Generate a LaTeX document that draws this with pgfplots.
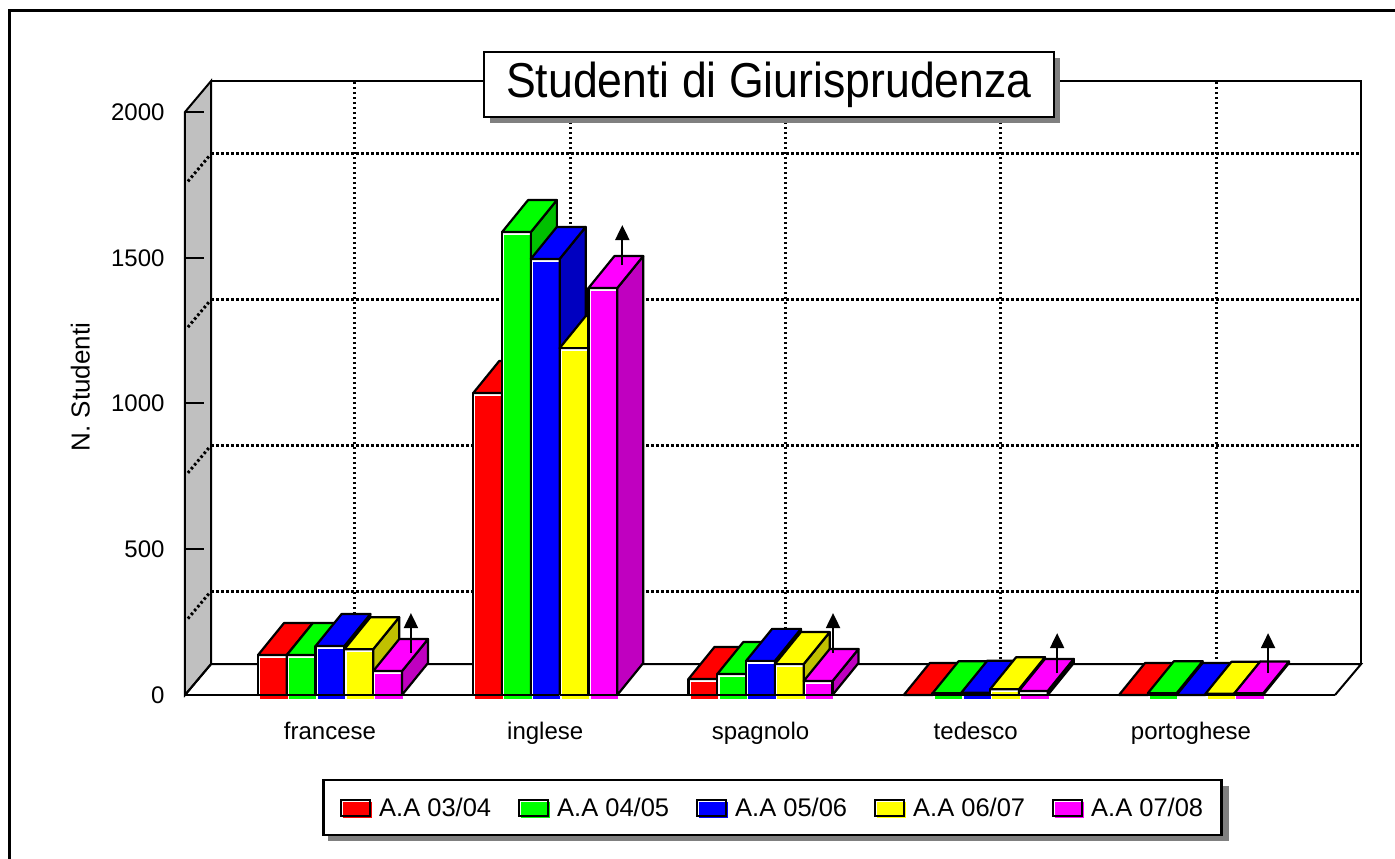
\documentclass[border=0pt]{standalone}
\usepackage{pgfplots}
\usepackage{pgfplotstable}
\usepackage{fontspec}
\setmainfont{Liberation Sans}
\newfontfamily\titlefont[FakeStretch=0.91]{Liberation Sans}
\pgfplotsset{compat=1.18}
\usetikzlibrary{shadows,arrows.meta}

\definecolor{cR}{RGB}{255,0,0}
\definecolor{cG}{RGB}{0,255,0}
\definecolor{cB}{RGB}{0,0,255}
\definecolor{cY}{RGB}{255,255,0}
\definecolor{cM}{RGB}{255,0,255}
\definecolor{sR}{RGB}{192,0,0}
\definecolor{sG}{RGB}{0,192,0}
\definecolor{sB}{RGB}{0,0,192}
\definecolor{sY}{RGB}{192,192,0}
\definecolor{sM}{RGB}{192,0,192}
\definecolor{wall}{RGB}{192,192,192}
\definecolor{shadowgrey}{RGB}{128,128,128}

% one table per series, cat = language index, v = students
\pgfplotstableread{
cat v
0 137
1 1036
2 55
3 0
4 0
}\seriesA
\pgfplotstableread{
cat v
0 137
1 1588
2 72
3 6
4 6
}\seriesB
\pgfplotstableread{
cat v
0 168
1 1496
2 117
3 8
4 0
}\seriesC
\pgfplotstableread{
cat v
0 157
1 1190
2 106
3 20
4 4
}\seriesD
\pgfplotstableread{
cat v
0 82
1 1396
2 48
3 14
4 5
}\seriesE
% arrows above the last series
\pgfplotstableread{
x y
0.376 144
1.358 1475
2.337 144
3.378 75
4.358 75
}\arrowsE

\pgfdeclareplotmark{nothing}{}
\pgfplotsset{
  box3d/.style 2 args={
    only marks, mark=nothing, scatter, scatter src=y,
    visualization depends on={y \as \barv},
    scatter/@pre marker code/.code={%
      \scope
      \pgfmathsetmacro\h{\barv*0.2915}%
      \pgfmathsetmacro\t{min(3,\h)}%
      \fill[white] (-14.4pt,-\h pt) rectangle (14.4pt,0pt);
      \ifdim\h pt>0.5pt
        \fill[#1] (-12pt,-\h pt-3.5pt) rectangle (14.4pt,-\t pt);
      \fi
      \draw[black,line width=2.2pt,line join=round,fill=#2]
        (14.4pt,0pt) -- (40.4pt,32pt) -- (40.4pt,32pt-\h pt) -- (14.4pt,-\h pt) -- cycle;
      \draw[black,line width=2.2pt,line join=round,fill=#1]
        (-14.4pt,0pt) -- (11.6pt,32pt) -- (40.4pt,32pt) -- (14.4pt,0pt) -- cycle;
      \draw[black,line width=2.2pt,line join=round] (-14.4pt,-\h pt) rectangle (14.4pt,0pt);
    },
    scatter/@post marker code/.code={\endscope},
  },
  % marks are painted after plain paths, so the arrows must be marks too
  arrowmark/.style={
    only marks, mark=nothing, scatter, scatter src=y,
    scatter/@pre marker code/.code={%
      \scope
      \draw[black,line width=2pt,-{Triangle[length=15pt,width=14pt]}] (0pt,0pt) -- (0pt,40pt);
    },
    scatter/@post marker code/.code={\endscope},
  },
  swatch/.style={
    legend image code/.code={
      \path[draw=none] (0pt,0pt) -- (36pt,0pt);
      \fill[#1,draw=none] (2pt,-10pt) rectangle (31pt,6pt);
      \draw[black,line width=2pt] (0pt,-8pt) rectangle (29pt,8pt);
    },
  },
  griddot/.style={black,line width=3pt,dash pattern=on 2.5pt off 2.5pt,forget plot},
}

\begin{document}
\begin{tikzpicture}[x=1pt,y=1pt]
\path[use as bounding box] (-185,-164) rectangle (1210,695);
\draw[black,line width=3pt] (-175,-170) -- (-175,684) -- (1212,684);
\begin{axis}[
    at={(0pt,0pt)}, anchor=south west,
    scale only axis, width=1150pt, height=583pt,
    xmin=-0.6736, xmax=4.669, ymin=0, ymax=2000,
    clip=false, axis on top,
    axis x line*=bottom, axis y line*=left,
    axis line style={black,line width=2pt,-},
    xtick={0,1,2,3,4},
    xticklabels={francese,inglese,spagnolo,tedesco,portoghese},
    x tick style={draw=none},
    ytick={0,500,1000,1500,2000},
    y tick style={black,line width=2pt},
    tick align=inside, major tick length=19pt,
    /pgf/number format/assume math mode=true,
    /pgf/number format/1000 sep={},
    tick label style={font=\fontsize{24}{24}\selectfont},
    xticklabel style={yshift=-24pt},
    yticklabel style={xshift=-17pt},
    ylabel={N. Studenti},
    ylabel style={font=\fontsize{26}{26}\selectfont, at={(axis description cs:-0.091,0.528)}, anchor=center},
    title={Studenti di Giurisprudenza},
    title style={
      font=\titlefont\fontsize{49}{49}\selectfont,
      at={(axis description cs:0.5078,1.0369)}, anchor=center,
      draw=black, line width=2.5pt, fill=white,
      minimum width=570pt, minimum height=65pt, inner sep=0pt,
      drop shadow={shadow xshift=6pt, shadow yshift=-6pt, fill=shadowgrey, opacity=1},
    },
    legend columns=5,
    legend cell align=left,
    legend style={
      at={(axis description cs:0.511,-0.193)}, anchor=center,
      draw=black, line width=2.5pt, fill=white,
      font=\fontsize{25.5}{25.5}\selectfont,
      inner xsep=16.5pt, inner ysep=15.5pt,
      /tikz/every even column/.append style={column sep=25pt},
    },
]
% left wall
\addplot[draw=black,line width=2pt,fill=wall,forget plot] coordinates
  {(-0.6736,0) (-0.6736,2000) (-0.5528,2106) (-0.5528,106)} -- cycle;
% floor and back wall
\addplot[draw=black,line width=2pt,forget plot] coordinates
  {(-0.6736,0) (-0.5528,106) (4.79,106) (4.669,0)};
\addplot[draw=black,line width=2pt,forget plot] coordinates
  {(-0.5528,2106) (4.79,2106) (4.79,106)};
% back wall grid
\addplot[griddot] coordinates {(-0.5528,356) (4.79,356)};
\addplot[griddot] coordinates {(-0.5528,856) (4.79,856)};
\addplot[griddot] coordinates {(-0.5528,1356) (4.79,1356)};
\addplot[griddot] coordinates {(-0.5528,1856) (4.79,1856)};
\addplot[griddot] coordinates {(-0.66,262) (-0.56,350)};
\addplot[griddot] coordinates {(-0.66,762) (-0.56,850)};
\addplot[griddot] coordinates {(-0.66,1262) (-0.56,1350)};
\addplot[griddot] coordinates {(-0.66,1762) (-0.56,1850)};
\addplot[griddot] coordinates {(0.1161,106) (0.1161,2106)};
\addplot[griddot] coordinates {(1.1161,106) (1.1161,2106)};
\addplot[griddot] coordinates {(2.1161,106) (2.1161,2106)};
\addplot[griddot] coordinates {(3.1161,106) (3.1161,2106)};
\addplot[griddot] coordinates {(4.1161,106) (4.1161,2106)};
% bars
\addplot[box3d={cR}{sR},forget plot] table[x expr=\thisrow{cat}-0.2676,y=v] {\seriesA};
\addplot[box3d={cG}{sG},forget plot] table[x expr=\thisrow{cat}-0.1338,y=v] {\seriesB};
\addplot[box3d={cB}{sB},forget plot] table[x=cat,y=v] {\seriesC};
\addplot[box3d={cY}{sY},forget plot] table[x expr=\thisrow{cat}+0.1338,y=v] {\seriesD};
\addplot[box3d={cM}{sM},forget plot] table[x expr=\thisrow{cat}+0.2676,y=v] {\seriesE};
% arrows
\addplot[arrowmark,forget plot] table[x=x,y=y] {\arrowsE};
% legend shadow, the legend itself is drawn over it
\fill[shadowgrey] (axis cs:-0.6736,0) ++(143pt,-91pt) rectangle ++(901pt,-55pt);
\addlegendimage{swatch=cR}\addlegendentry{A.A 03/04}
\addlegendimage{swatch=cG}\addlegendentry{A.A 04/05}
\addlegendimage{swatch=cB}\addlegendentry{A.A 05/06}
\addlegendimage{swatch=cY}\addlegendentry{A.A 06/07}
\addlegendimage{swatch=cM}\addlegendentry{A.A 07/08}
\end{axis}
\end{tikzpicture}
\end{document}
